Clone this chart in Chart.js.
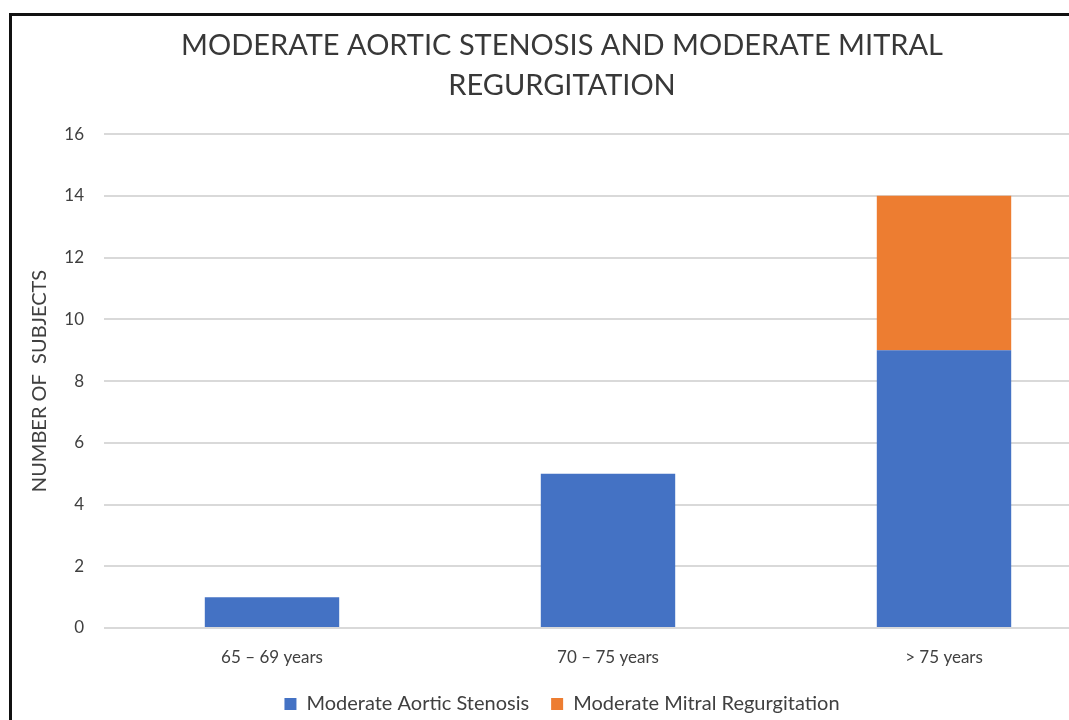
<!DOCTYPE html>
<html>
<head>
<meta charset="utf-8">
<script src="https://cdn.jsdelivr.net/npm/chart.js@4"></script>
<style>
  html, body { margin: 0; padding: 0; background: #fff; overflow: hidden; }
  #frame {
    position: absolute; left: 9px; top: 13px;
    border-top: 3px solid #111; border-left: 3px solid #111;
    width: 1120px; height: 714px;
  }
  #wrap { position: absolute; left: 0; top: 0; width: 1100px; height: 708px; }
</style>
</head>
<body>
<div id="frame"><div id="wrap"><canvas id="c"></canvas></div></div>
<script>
const titleLines = ['MODERATE AORTIC STENOSIS AND MODERATE MITRAL', 'REGURGITATION'];
const ageGroups = ['65 \u2013 69 years', '70 \u2013 75 years', '> 75 years'];
const aorticStenosis = [1, 5, 9];
const mitralRegurg = [0, 0, 5];
const yTicks = [0, 2, 4, 6, 8, 10, 12, 14, 16];

const fontFam = 'Lato, "Open Sans", sans-serif';

new Chart(document.getElementById('c').getContext('2d'), {
  type: 'bar',
  data: {
    labels: ageGroups,
    datasets: [
      {label: 'Moderate Aortic Stenosis', data: aorticStenosis, backgroundColor: '#4472C4'},
      {label: 'Moderate Mitral Regurgitation', data: mitralRegurg, backgroundColor: '#ED7D31'}
    ]
  },
  options: {
    responsive: true,
    maintainAspectRatio: false,
    animation: false,
    categoryPercentage: 1,
    barPercentage: 0.4,
    layout: {padding: 0},
    plugins: {
      title: {
        display: true,
        text: titleLines,
        color: '#383838',
        font: {family: fontFam, size: 29, weight: 'normal', lineHeight: 1.38},
        padding: {top: 10, bottom: 28}
      },
      legend: {
        position: 'bottom',
        labels: {
          color: '#404040',
          font: {family: fontFam, size: 20},
          boxWidth: 12, boxHeight: 12,
          padding: 22
        }
      },
      tooltip: {enabled: false}
    },
    scales: {
      x: {
        stacked: true,
        grid: {display: false, drawTicks: false},
        border: {display: false},
        ticks: {color: '#404040', font: {family: fontFam, size: 17}, padding: 19},
        afterFit: s => { s.height = 44; }
      },
      y: {
        stacked: true,
        min: 0, max: 16,
        afterBuildTicks: s => { s.ticks = yTicks.map(v => ({value: v})); },
        grid: {color: '#d9d9d9', lineWidth: 2, drawTicks: false},
        border: {display: false},
        ticks: {color: '#404040', font: {family: fontFam, size: 17}, padding: 20},
        title: {
          display: true,
          text: 'NUMBER OF  SUBJECTS',
          color: '#404040',
          font: {family: fontFam, size: 20},
          padding: {top: 16, bottom: 0}
        },
        afterFit: s => { s.width = 92; }
      }
    }
  }
});
</script>
</body>
</html>
